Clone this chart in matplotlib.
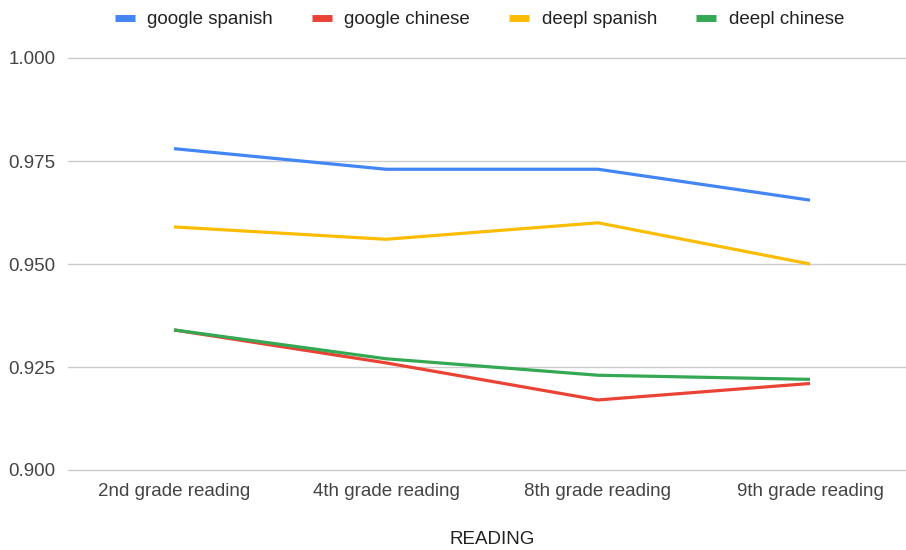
import matplotlib
matplotlib.use("Agg")
import matplotlib.pyplot as plt

plt.rcParams['font.family'] = ['Liberation Sans', 'DejaVu Sans']

categories = ["2nd grade reading", "4th grade reading", "8th grade reading", "9th grade reading"]
google_spanish = [0.978, 0.973, 0.973, 0.9655]
google_chinese = [0.934, 0.926, 0.917, 0.921]
deepl_spanish = [0.959, 0.956, 0.960, 0.950]
deepl_chinese = [0.934, 0.927, 0.923, 0.922]

series = [
    ("google spanish", google_spanish, "#4285F4"),
    ("google chinese", google_chinese, "#EA4335"),
    ("deepl spanish", deepl_spanish, "#FBBC04"),
    ("deepl chinese", deepl_chinese, "#34A853"),
]

fig = plt.figure(figsize=(9.06, 5.5), dpi=100)
ax = fig.add_axes([68 / 906, 80 / 550, 848 / 906, 412 / 550])

x = range(len(categories))
for label, vals, color in series:
    ax.plot(x, vals, color=color, lw=2.3, label=label, solid_capstyle="butt")

ax.set_xlim(-0.5, 3.5)
ax.set_ylim(0.9, 1.0)
ax.set_yticks([0.900, 0.925, 0.950, 0.975, 1.000])
ax.set_yticklabels(["0.900", "0.925", "0.950", "0.975", "1.000"])
ax.set_xticks(list(x))
ax.set_xticklabels(categories)
ax.tick_params(length=0, labelsize=13.5, colors="#444444", pad=9)
ax.tick_params(axis="y", pad=9)
ax.grid(axis="y", color="#cccccc", lw=1)
for gl in ax.get_ygridlines():
    gl.set_clip_on(False)
ax.set_axisbelow(True)
for s in ax.spines.values():
    s.set_visible(False)

ax.set_xlabel("READING", fontsize=13.5, color="#222222", labelpad=23)

fig.legend(loc="upper center", bbox_to_anchor=(0.529, 1.01), ncol=4, frameon=False,
           fontsize=13.5, handlelength=1.07, handletextpad=0.65, columnspacing=2.1,
           labelcolor="#222222")
for h in fig.legends[0].get_lines():
    h.set_linewidth(5)

fig.savefig("out.png", dpi=100)
